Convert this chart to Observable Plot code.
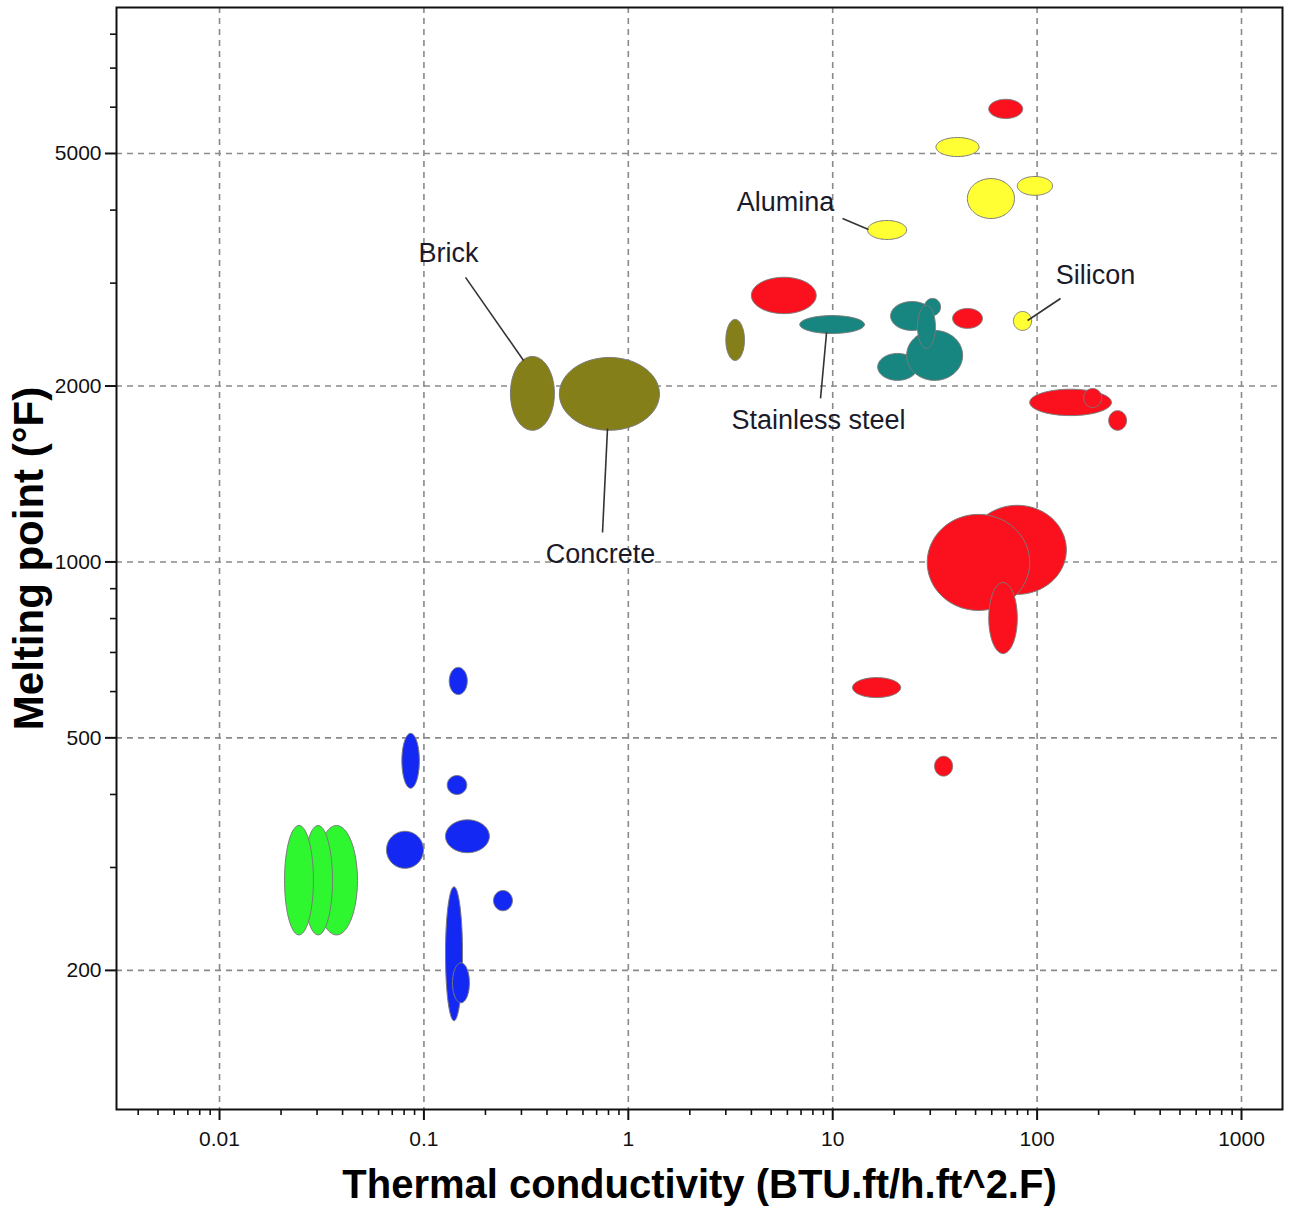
<!DOCTYPE html>
<html><head><meta charset="utf-8">
<script src="https://cdn.jsdelivr.net/npm/d3@7"></script>
<script src="https://cdn.jsdelivr.net/npm/@observablehq/plot@0.6"></script>
<style>body{margin:0;background:#fff;} svg{display:block}</style>
</head><body><div id="chart"></div>
<script>
// material families and their colours
const families = ["Metals", "Ceramics", "Steels", "Masonry", "Polymers", "Foams"];
const familyColors = ["#fb101e", "#ffff33", "#178580", "#857f1a", "#1428f4", "#2ff72f"];

// one entry per ellipse: thermal conductivity range (kLow..kHigh) and melting point range (tLow..tHigh)
const family = [
  "Metals","Metals","Metals","Metals","Metals","Metals","Metals","Metals","Metals","Metals","Metals",
  "Ceramics","Ceramics","Ceramics","Ceramics","Ceramics",
  "Steels","Steels","Steels","Steels","Steels","Steels",
  "Masonry","Masonry","Masonry",
  "Polymers","Polymers","Polymers","Polymers","Polymers","Polymers","Polymers","Polymers",
  "Foams","Foams","Foams"
];
const kLow  = [58, 4.0, 38.6, 92, 169, 224, 46, 29, 58, 12.5, 31.5,
               32, 45.6, 80, 14.8, 76.6,
               6.9, 19.2, 16.6, 23, 28.1, 26,
               3.0, 0.265, 0.46,
               0.133, 0.078, 0.130, 0.0656, 0.1275, 0.219, 0.1275, 0.138,
               0.0295, 0.0258, 0.0208];
const kHigh = [85, 8.3, 54, 231, 207, 274, 139, 92, 80, 21.5, 38.6,
               52, 77.5, 119, 23, 94,
               14.3, 31.1, 26, 43.2, 33.7, 31.8,
               3.7, 0.435, 1.42,
               0.163, 0.095, 0.162, 0.0995, 0.209, 0.271, 0.1545, 0.167,
               0.0473, 0.0357, 0.0288];
const tLow  = [5740, 2660, 2510, 1780, 1838, 1680, 880, 826, 697, 586, 430,
               4940, 3870, 4240, 3563, 2490,
               2460, 2490, 2045, 2045, 2640, 2320,
               2212, 1680, 1680,
               593, 410, 400, 299, 318, 253, 164, 176,
               230, 230, 230];
const tHigh = [6190, 3070, 2715, 1975, 1981, 1815, 1250, 1206, 922, 634, 465,
               5325, 4530, 4567, 3840, 2683,
               2640, 2790, 2274, 2490, 2825, 2747,
               2600, 2247, 2238,
               660, 509, 431, 346, 362, 274, 278, 206,
               354, 354, 354];

// annotations
const labelNames = ["Brick", "Concrete", "Alumina", "Silicon", "Stainless steel"];
const labelK = [0.1319, 0.7311, 5.876, 193.1, 8.52];
const labelT = [3373, 1032, 4123, 3095, 1745];
const leaderK1 = [0.1598, 0.7478, 11.17, 130.2, 8.72];
const leaderT1 = [3069, 1123, 3871, 2824, 1905];
const leaderK2 = [0.3072, 0.791, 14.97, 89.8, 9.33];
const leaderT2 = [2212, 1692, 3707, 2589, 2470];

// axes
const xMajorTicks = [0.01, 0.1, 1, 10, 100, 1000];
const xTickLabels = ["0.01", "0.1", "1", "10", "100", "1000"];
const xMinorTicks = [0.004,0.005,0.006,0.007,0.008,0.009,
  0.02,0.03,0.04,0.05,0.06,0.07,0.08,0.09,
  0.2,0.3,0.4,0.5,0.6,0.7,0.8,0.9,
  2,3,4,5,6,7,8,9, 20,30,40,50,60,70,80,90,
  200,300,400,500,600,700,800,900];
const yMajorTicks = [200, 500, 1000, 2000, 5000];
const yTickLabels = ["200", "500", "1000", "2000", "5000"];
const yMinorTicks = [300, 400, 600, 700, 800, 900, 3000, 4000, 6000, 7000, 8000];

const xTitle = "Thermal conductivity (BTU.ft/h.ft^2.F)";
const yTitle = "Melting point (°F)";

// ellipse outlines built in log space from the ranges
const N = 96;
const ellipsePts = [];
family.forEach((f, i) => {
  const a0 = Math.log10(kLow[i]), a1 = Math.log10(kHigh[i]);
  const b0 = Math.log10(tLow[i]), b1 = Math.log10(tHigh[i]);
  const cx = (a0 + a1) / 2, rx = (a1 - a0) / 2, cy = (b0 + b1) / 2, ry = (b1 - b0) / 2;
  for (let j = 0; j < N; j++) {
    const t = 2 * Math.PI * j / N;
    ellipsePts.push({id: i, color: familyColors[families.indexOf(f)],
      k: Math.pow(10, cx + rx * Math.cos(t)), T: Math.pow(10, cy + ry * Math.sin(t))});
  }
});

const labels = labelNames.map((n, i) => ({name: n, k: labelK[i], T: labelT[i],
  k1: leaderK1[i], T1: leaderT1[i], k2: leaderK2[i], T2: leaderT2[i]}));

const font = "Arial, 'Liberation Sans', Helvetica, sans-serif";
const gridStyle = {stroke: "#8a8a8a", strokeOpacity: 1, strokeWidth: 1.6, strokeDasharray: "6,5"};

const chart = Plot.plot({
  width: 1289, height: 1211,
  marginLeft: 116, marginRight: 7, marginTop: 7, marginBottom: 102,
  x: {type: "log", domain: [0.003133, 1587], label: null},
  y: {type: "log", domain: [115.6, 8888], label: null},
  color: {type: "identity"},
  style: {fontFamily: font, background: "#fff", overflow: "visible"},
  marks: [
    Plot.gridX(xMajorTicks, gridStyle),
    Plot.gridY(yMajorTicks, gridStyle),
    Plot.line(ellipsePts, {x: "k", y: "T", z: "id", fill: "color", stroke: "#7a7a7a",
      strokeWidth: 1, curve: "linear-closed"}),
    Plot.link(labels, {x1: "k1", y1: "T1", x2: "k2", y2: "T2", stroke: "#333", strokeWidth: 1.6}),
    Plot.text(labels, {x: "k", y: "T", text: "name", fontSize: 27, fill: "#1a1a2a",
      textAnchor: "middle", lineAnchor: "middle"}),
    Plot.frame({stroke: "#111", strokeWidth: 2}),
    Plot.axisX(xMinorTicks, {tickSize: 6, strokeWidth: 1.6, color: "#111", tickFormat: () => "", label: null}),
    Plot.axisX(xMajorTicks, {tickSize: 11, tickPadding: 11, strokeWidth: 2, color: "#111", fontSize: 21,
      tickFormat: d => xTickLabels[xMajorTicks.indexOf(d)], label: null}),
    Plot.axisY(yMinorTicks, {tickSize: 6, strokeWidth: 1.6, color: "#111", tickFormat: () => "", label: null}),
    Plot.axisY(yMajorTicks, {tickSize: 11, tickPadding: 4, strokeWidth: 2, color: "#111", fontSize: 21,
      tickFormat: d => yTickLabels[yMajorTicks.indexOf(d)], label: null}),
    Plot.text([xTitle], {frameAnchor: "bottom", dy: 88, lineAnchor: "bottom", fontSize: 40,
      fontWeight: "bold", fill: "#000"}),
    Plot.text([yTitle], {frameAnchor: "left", dx: -74, rotate: -90, lineAnchor: "bottom",
      textAnchor: "middle", fontSize: 42, fontWeight: "bold", fill: "#000"})
  ]
});
document.getElementById("chart").appendChild(chart);
</script>
</body></html>
